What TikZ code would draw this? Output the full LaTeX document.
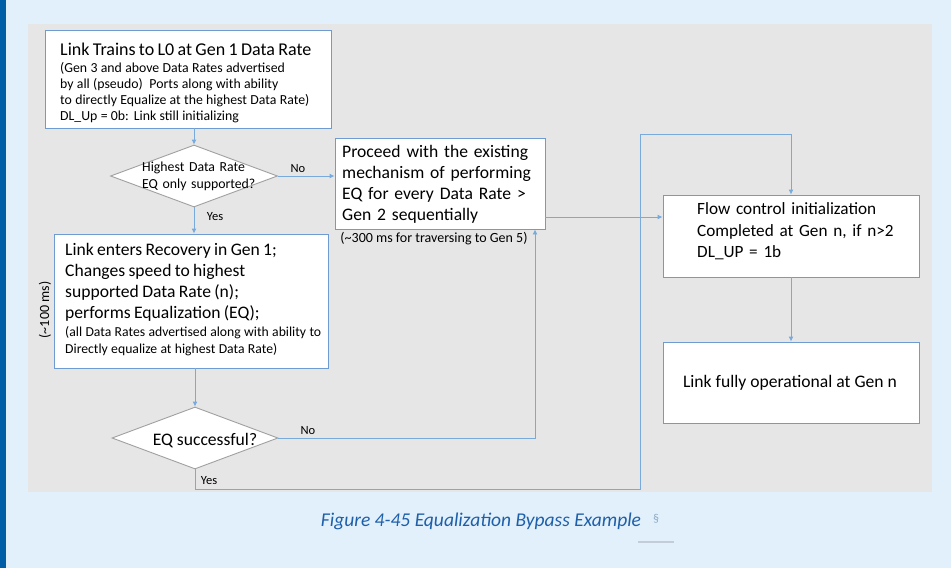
\documentclass[tikz,border=0pt]{standalone}
\usepackage{fontspec}
\setmainfont{Carlito}
\usetikzlibrary{shapes.geometric,arrows.meta}
\definecolor{pagebg}{RGB}{225,240,250}
\definecolor{sidebar}{RGB}{0,94,166}
\definecolor{panel}{RGB}{230,230,230}
\definecolor{boxline}{RGB}{110,155,210}
\definecolor{conn}{RGB}{120,170,220}
\definecolor{diamline}{RGB}{160,160,160}
\definecolor{captxt}{RGB}{30,95,170}
\definecolor{secgray}{RGB}{140,170,200}
\definecolor{rulegray}{RGB}{195,205,215}
\newcommand{\bigtxt}{\fontsize{17.6}{21}\selectfont}
\newcommand{\smalltxt}{\fontsize{13.8}{16.3}\selectfont}
\tikzset{
  box/.style={draw=boxline, fill=white, line width=0.9pt, inner sep=0pt},
  dia/.style={diamond, draw=diamline, fill=white, line width=0.9pt, inner sep=0pt},
  conn/.style={draw=conn, line width=0.9pt},
  arr/.style={conn, -{Latex[length=5pt,width=5pt]}},
  lbl/.style={font=\fontsize{12.5}{14}\selectfont, inner sep=0pt},
  note/.style={font=\fontsize{14}{16}\selectfont, inner sep=0pt},
  txt/.style={anchor=base west, inner sep=0pt, align=left},
}
\begin{document}
\begin{tikzpicture}[x=1pt,y=-1pt]
\useasboundingbox (0,0) rectangle (951,568);
\fill[pagebg] (0,0) rectangle (951,568);
\fill[sidebar] (0,0) rectangle (6,568);
\fill[panel] (28,24) rectangle (932,492);

% Box 1
\node[box, minimum width=286pt, minimum height=98pt] (b1) at (188,79) {};
\node[txt, text width=268pt] (b1t) at (60,55)
 {\smalltxt{\fontsize{18}{21}\selectfont Link Trains to L0 at Gen 1 Data Rate}\\[0.7pt]
  (Gen 3 and above Data Rates advertised\\
  by all (pseudo)~ Ports along with ability\\
  to directly Equalize at the highest Data Rate)\\
  DL\_Up = 0b: Link still initializing\par};

% Diamond 1
\node[dia, minimum width=167pt, minimum height=62pt] (d1) at (194,176) {};
\node[txt, text width=130pt, font=\fontsize{13.8}{17}\selectfont] (d1t) at (142,171.5)
 {Highest Data Rate\\EQ only supported?};

% Box 2
\node[box, minimum width=210pt, minimum height=91pt] (b2) at (440,183.5) {};
\node[txt, text width=200pt, font=\bigtxt] (b2t) at (342,157.5)
 {Proceed with the existing\\mechanism of performing\\EQ for every Data Rate >\\Gen 2 sequentially};
\node[note] (n300) at (434,239) {(\textasciitilde300 ms for traversing to Gen 5)};

% Box 3
\node[box, minimum width=274pt, minimum height=134pt] (b3) at (191,301) {};
\node[txt, text width=268pt] (b3t) at (65,255.5)
 {\bigtxt Link enters Recovery in Gen 1;\\
  Changes speed to highest\\
  supported Data Rate (n);\\
  performs Equalization (EQ);\par
  \vspace{1pt}\fontsize{13.7}{17}\selectfont (all Data Rates advertised along with ability to\\
  Directly equalize at highest Data Rate)\par};
\node[note, rotate=90] (n100) at (45,310) {(\textasciitilde100 ms)};

% Diamond 2
\node[dia, minimum width=166pt, minimum height=62pt] (d2) at (195,438) {};
\node[anchor=base, inner sep=0pt, font=\bigtxt] (d2t) at (205,445) {EQ successful?};

% Box 4
\node[box, minimum width=256pt, minimum height=82pt] (b4) at (791,236) {};
\node[txt, text width=215pt, font=\fontsize{17.2}{21.5}\selectfont] (b4t) at (697,214.5)
 {Flow control initialization\\Completed at Gen n, if n>2\\DL\_UP = 1b};

% Box 5
\node[box, minimum width=256pt, minimum height=81pt] (b5) at (791,382.5) {};
\node[anchor=base, inner sep=0pt, font=\bigtxt] (b5t) at (790,387) {Link fully operational at Gen n};

% Connectors
\draw[arr] (b1.south -| d1.north) -- (d1.north);
\draw[arr] (d1.east) -- (d1.east -| b2.west);
\node[lbl] (no1) at (298,169) {No};
\draw[arr] (d1.south) -- (d1.south |- b3.north);
\node[lbl] (yes1) at (215,217) {Yes};
\draw[arr] (b3.south -| d2.north) -- (d2.north);
\coordinate (c1) at (535,438);
\draw[arr] (d2.east) -- (c1) -- (c1 |- b2.south);
\node[lbl] (no2) at (308,431) {No};
\coordinate (c2) at (195,489);
\coordinate (c3) at (640,489);
\coordinate (c4) at (640,134);
\draw[arr] (d2.south) -- (c2) -- (c3) -- (c4) -- (c4 -| b4.north) -- (b4.north);
\node[lbl] (yes2) at (209,481) {Yes};
\draw[arr] ([yshift=-33.5pt]b2.east) -- ([yshift=-33.5pt]b2.east -| b4.west);
\draw[arr] (b4.south) -- (b5.north);

% Caption
\node[inner sep=0pt, text=captxt, font=\fontsize{19.5}{22}\selectfont\itshape] (cap) at (481,521)
 {Figure 4-45 Equalization Bypass Example};
\node[inner sep=0pt, text=secgray, font=\fontsize{12}{13}\selectfont] (sec) at (656,519) {\S};
\draw[rulegray, line width=1.5pt] (638,542) -- (674,542);
\end{tikzpicture}
\end{document}
